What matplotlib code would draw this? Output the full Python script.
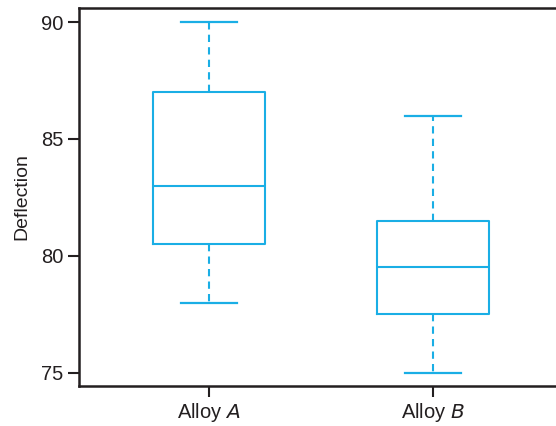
import matplotlib.pyplot as plt

plt.rcParams['font.family'] = ['Liberation Sans', 'DejaVu Sans']

labels = ['Alloy $\\mathit{A}$', 'Alloy $\\mathit{B}$']
whisker_low = [78, 75]
q1 = [80.5, 77.5]
median = [83, 79.5]
q3 = [87, 81.5]
whisker_high = [90, 86]

stats = []
for i in range(2):
    stats.append({'whislo': whisker_low[i], 'q1': q1[i], 'med': median[i],
                  'q3': q3[i], 'whishi': whisker_high[i], 'fliers': []})

blue = '#1aaee5'
dark = '#231f20'

fig = plt.figure(figsize=(5.56, 4.26), dpi=100)
ax = fig.add_axes([0.142, 0.094, 0.858, 0.887])
ax.bxp(stats, positions=[1, 2], widths=0.5, showfliers=False,
       boxprops=dict(color=blue, linewidth=1.5),
       medianprops=dict(color=blue, linewidth=1.5),
       whiskerprops=dict(color=blue, linewidth=1.5, linestyle=(0, (3.5, 2.5))),
       capprops=dict(color=blue, linewidth=1.6),
       capwidths=0.25)

ax.set_xlim(0.42, 2.55)
ax.set_ylim(74.43, 90.6)
ax.set_yticks([75, 80, 85, 90])
ax.set_xticks([1, 2])
ax.set_xticklabels(labels)
ax.set_ylabel('Deflection', fontsize=14, color=dark, labelpad=8)
ax.tick_params(labelsize=14.5, colors=dark, width=1.5, length=8, pad=3)
ax.spines['right'].set_visible(False)
for s in ['left', 'top', 'bottom']:
    ax.spines[s].set_linewidth(1.8)
    ax.spines[s].set_color(dark)

fig.savefig('out.png', dpi=100)
